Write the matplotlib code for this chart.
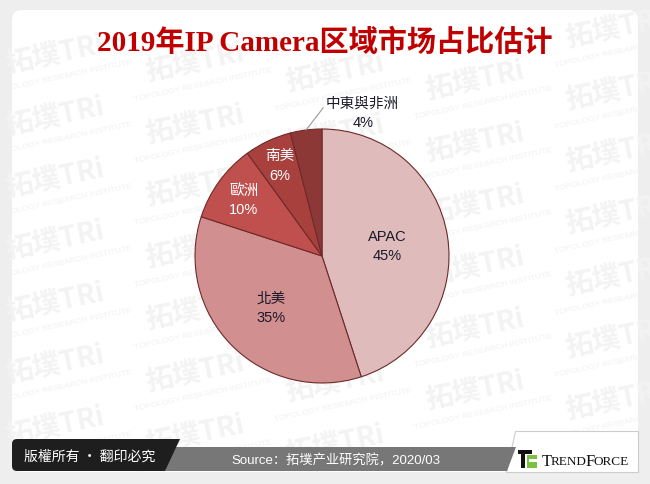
import matplotlib
matplotlib.use("Agg")
import matplotlib.pyplot as plt
from matplotlib.patches import FancyBboxPatch, Polygon, Rectangle
import numpy as np

# ---- data ----
categories = ["APAC", "北美", "歐洲", "南美", "中東與非洲"]
shares = [45, 35, 10, 6, 4]
colors = ["#dfbbbb", "#d18f8f", "#c0504d", "#a8403e", "#8c3836"]
label_colors = ["#1a1a2a", "#1a1a2a", "white", "white", "#1a1a2a"]
label_radius = [0.52, 0.57, 0.76, 0.79, None]
title = "2019年IP Camera区域市场占比估计"
copyright_text = "版權所有 · 翻印必究"
source_text = "Source：拓墣产业研究院，2020/03"

SANS = ["Liberation Sans", "Noto Sans CJK TC", "DejaVu Sans"]
SERIF = ["Liberation Serif", "Noto Sans CJK SC", "DejaVu Serif"]
plt.rcParams["font.family"] = SANS

W, H = 650, 485
fig = plt.figure(figsize=(W / 100, H / 100), dpi=100)
fig.patch.set_facecolor("#eeeeee")

bg = fig.add_axes([0, 0, 1, 1])
bg.set_xlim(0, W)
bg.set_ylim(H, 0)
bg.axis("off")

# panel
panel = FancyBboxPatch((12, 11), 626, 462, boxstyle="round,pad=0,rounding_size=10",
                       facecolor="white", edgecolor="none", zorder=0)
bg.add_patch(panel)

# watermark (faint, tiled across the panel, clipped to it)
for row in range(-1, 8):
    for col in range(0, 5):
        x = col * 140 + 55
        y = row * 62 + 55 - col * 22 + (col % 2) * 30
        if 25 <= y <= 450:
            t1 = bg.text(x, y, "拓墣TRi", fontsize=20, color="#f3f3f3", rotation=12,
                         family=["Noto Sans CJK TC", "DejaVu Sans"], fontweight="bold",
                         ha="center", va="center", zorder=0.5)
            t2 = bg.text(x + 8, y + 22, "TOPOLOGY RESEARCH INSTITUTE", fontsize=6, color="#f1f1f1",
                         rotation=12, ha="center", va="center", zorder=0.5)
            t1.set_clip_path(panel)
            t2.set_clip_path(panel)

# title
bg.text(325, 43, title, fontsize=21, color="#c00000", fontweight="bold",
        family=SERIF, ha="center", va="center", zorder=3)

# bottom bar
bg.add_patch(Polygon([[515, 432], [638, 432], [638, 473], [506, 473]], closed=True,
                     facecolor="white", edgecolor="#cccccc", lw=0.8, zorder=2))
bg.add_patch(Polygon([[170, 448], [516, 448], [507, 472], [165, 472]], closed=True,
                     facecolor="#777777", edgecolor="none", zorder=2))
bg.add_patch(FancyBboxPatch((12, 440), 150, 32, boxstyle="round,pad=0,rounding_size=5",
                            facecolor="#1e1e1e", edgecolor="none", zorder=2.5))
bg.add_patch(Polygon([[150, 440], [180, 440], [165, 472], [150, 472]], closed=True,
                     facecolor="#1e1e1e", edgecolor="none", zorder=2.5))
bg.text(90, 457, copyright_text, fontsize=10, color="white", ha="center", va="center",
        family=["Noto Sans CJK TC", "DejaVu Sans"], zorder=3)
bg.text(336, 461, source_text, fontsize=9.5, color="white", ha="center", va="center",
        family=["Liberation Sans", "Noto Sans CJK SC", "DejaVu Sans"], zorder=3)
# TrendForce logo
bg.add_patch(Rectangle((518, 451), 14, 4, facecolor="#111111", zorder=3))
bg.add_patch(Rectangle((521, 455), 4, 14, facecolor="#111111", zorder=3))
bg.add_patch(Polygon([[527, 456], [537, 456], [537, 469], [527, 469]], facecolor="#7ac143", zorder=3))
bg.add_patch(Rectangle((529, 460), 8, 2.5, facecolor="white", zorder=3.1))
bg.text(542, 462, "T", fontsize=12, color="#111111", family=SERIF, ha="left", va="center", zorder=3)
bg.text(551, 462.5, "REND", fontsize=9.5, color="#111111", family=SERIF, ha="left", va="center", zorder=3)
bg.text(586, 462, "F", fontsize=12, color="#111111", family=SERIF, ha="left", va="center", zorder=3)
bg.text(594, 462.5, "ORCE", fontsize=9.5, color="#111111", family=SERIF, ha="left", va="center", zorder=3)

# pie
cx, cy, r = 322, 257, 127
ax = fig.add_axes([(cx - r) / W, (H - cy - r) / H, 2 * r / W, 2 * r / H])
wedges, _ = ax.pie(shares, colors=colors, startangle=90, counterclock=False,
                   wedgeprops=dict(edgecolor="#6e2a2a", linewidth=0.8))
ax.set_aspect("equal")
ax.set_xlim(-1, 1)
ax.set_ylim(-1, 1)

for w, cat, s, lc, lr in zip(wedges, categories, shares, label_colors, label_radius):
    ang = np.deg2rad((w.theta1 + w.theta2) / 2)
    if lr is not None:
        ax.text(lr * np.cos(ang), lr * np.sin(ang), f"{cat}\n{s}%", color=lc, fontsize=10.5,
                ha="center", va="center", linespacing=1.5)
    else:
        ex, ey = 1.0 * np.cos(ang), 1.0 * np.sin(ang)
        ax.annotate(f"{cat}\n{s}%", xy=(ex, ey), xytext=(0.32, 1.13), color=lc, fontsize=10.5,
                    ha="center", va="center", linespacing=1.5, annotation_clip=False,
                    arrowprops=dict(arrowstyle="-", color="#999999", lw=0.8,
                                    shrinkA=0, shrinkB=0, relpos=(0.0, 0.75)))

fig.savefig("out.png", dpi=100, facecolor=fig.get_facecolor())
